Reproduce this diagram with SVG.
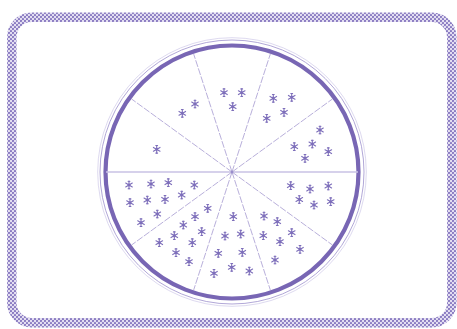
<svg xmlns="http://www.w3.org/2000/svg" xmlns:xlink="http://www.w3.org/1999/xlink" width="457" height="329" viewBox="0 0 457 329">
<style>
.spoke{stroke:#a69bd0;stroke-width:0.8;stroke-dasharray:7 1.5;fill:none}
.axis{stroke:#c9c2e4;stroke-width:1.3;fill:none}
.fl{stroke:#7d6eba;stroke-width:1.1;stroke-linecap:round;fill:none}
</style>
<defs>
<pattern id="chk" patternUnits="userSpaceOnUse" width="4" height="4">
<rect width="4" height="4" fill="#e4dff2"/>
<circle cx="1" cy="1" r="1.1" fill="#8576bf"/>
<circle cx="3" cy="3" r="1.1" fill="#8576bf"/>
</pattern>
<g id="flake" class="fl">
<line x1="0" y1="-3.8" x2="0" y2="3.8"/>
<line x1="-3.3" y1="-1.9" x2="3.3" y2="1.9"/>
<line x1="-3.3" y1="1.9" x2="3.3" y2="-1.9"/>
<line x1="-0.9" y1="-3.8" x2="0.9" y2="-3.8"/>
<line x1="-0.9" y1="3.8" x2="0.9" y2="3.8"/>
<circle cx="0" cy="0" r="0.9"/>
</g>
</defs>
<rect width="457" height="329" fill="#ffffff"/>
<g id="frame">
<rect x="11.8" y="17.3" width="440" height="305.4" rx="20" ry="20" fill="none" stroke="url(#chk)" stroke-width="9.5"/>
</g>
<g id="plate">
<circle cx="232" cy="172" r="132" fill="none" stroke="#a89dd2" stroke-width="0.9"/>
<circle cx="232" cy="172" r="134.3" fill="none" stroke="#cfc8e8" stroke-width="0.7"/>
<circle cx="232" cy="172" r="126.5" fill="none" stroke="#7866b4" stroke-width="4.2"/>
</g>
<g id="connectors">
<line class="axis" x1="106" y1="172" x2="358" y2="172"/>
<line class="spoke" x1="232" y1="172" x2="332.3" y2="99.1"/>
<line class="spoke" x1="232" y1="172" x2="270.3" y2="54.1"/>
<line class="spoke" x1="232" y1="172" x2="193.7" y2="54.1"/>
<line class="spoke" x1="232" y1="172" x2="131.7" y2="99.1"/>
<line class="spoke" x1="232" y1="172" x2="131.7" y2="244.9"/>
<line class="spoke" x1="232" y1="172" x2="193.7" y2="289.9"/>
<line class="spoke" x1="232" y1="172" x2="270.3" y2="289.9"/>
<line class="spoke" x1="232" y1="172" x2="332.3" y2="244.9"/>
<circle cx="232" cy="172" r="1.3" fill="#9a8ecb"/>
</g>
<g id="slice1"><use xlink:href="#flake" x="156.7" y="149.3"/></g>
<g id="slice2">
<use xlink:href="#flake" x="182.3" y="113.3"/>
<use xlink:href="#flake" x="195" y="104"/>
</g>
<g id="slice3">
<use xlink:href="#flake" x="224" y="92.7"/>
<use xlink:href="#flake" x="241.7" y="92.7"/>
<use xlink:href="#flake" x="232.7" y="106.7"/>
</g>
<g id="slice4">
<use xlink:href="#flake" x="273.3" y="98.3"/>
<use xlink:href="#flake" x="291.7" y="97.3"/>
<use xlink:href="#flake" x="284" y="112.3"/>
<use xlink:href="#flake" x="266.7" y="118.3"/>
</g>
<g id="slice5">
<use xlink:href="#flake" x="320" y="130"/>
<use xlink:href="#flake" x="294.3" y="146.7"/>
<use xlink:href="#flake" x="312.3" y="144"/>
<use xlink:href="#flake" x="305" y="158.3"/>
<use xlink:href="#flake" x="328.3" y="151.7"/>
</g>
<g id="slice6">
<use xlink:href="#flake" x="290.7" y="185.7"/>
<use xlink:href="#flake" x="310" y="189"/>
<use xlink:href="#flake" x="328.3" y="186"/>
<use xlink:href="#flake" x="299.3" y="199.5"/>
<use xlink:href="#flake" x="314" y="205"/>
<use xlink:href="#flake" x="330.7" y="201.7"/>
</g>
<g id="slice7">
<use xlink:href="#flake" x="264" y="216"/>
<use xlink:href="#flake" x="277.3" y="221.7"/>
<use xlink:href="#flake" x="291.7" y="232.7"/>
<use xlink:href="#flake" x="263.3" y="235.7"/>
<use xlink:href="#flake" x="280" y="241.7"/>
<use xlink:href="#flake" x="300" y="249.3"/>
<use xlink:href="#flake" x="275" y="260"/>
</g>
<g id="slice8">
<use xlink:href="#flake" x="233.3" y="216.7"/>
<use xlink:href="#flake" x="225" y="236"/>
<use xlink:href="#flake" x="240.7" y="234"/>
<use xlink:href="#flake" x="218.3" y="253.3"/>
<use xlink:href="#flake" x="242.3" y="252.3"/>
<use xlink:href="#flake" x="214" y="273.3"/>
<use xlink:href="#flake" x="231.7" y="267.3"/>
<use xlink:href="#flake" x="249.3" y="271"/>
</g>
<g id="slice9">
<use xlink:href="#flake" x="207.7" y="208.3"/>
<use xlink:href="#flake" x="195" y="216.7"/>
<use xlink:href="#flake" x="183.3" y="225"/>
<use xlink:href="#flake" x="201.7" y="231.7"/>
<use xlink:href="#flake" x="174.3" y="235.7"/>
<use xlink:href="#flake" x="159.3" y="242.7"/>
<use xlink:href="#flake" x="192.3" y="242.7"/>
<use xlink:href="#flake" x="176" y="252.7"/>
<use xlink:href="#flake" x="189" y="261.7"/>
</g>
<g id="slice10">
<use xlink:href="#flake" x="129" y="185"/>
<use xlink:href="#flake" x="151" y="184"/>
<use xlink:href="#flake" x="168.3" y="182.7"/>
<use xlink:href="#flake" x="194.3" y="185"/>
<use xlink:href="#flake" x="130" y="202.7"/>
<use xlink:href="#flake" x="147.3" y="200"/>
<use xlink:href="#flake" x="165" y="199.3"/>
<use xlink:href="#flake" x="181.7" y="195"/>
<use xlink:href="#flake" x="141" y="222.7"/>
<use xlink:href="#flake" x="157.3" y="214"/>
</g>
</svg>
